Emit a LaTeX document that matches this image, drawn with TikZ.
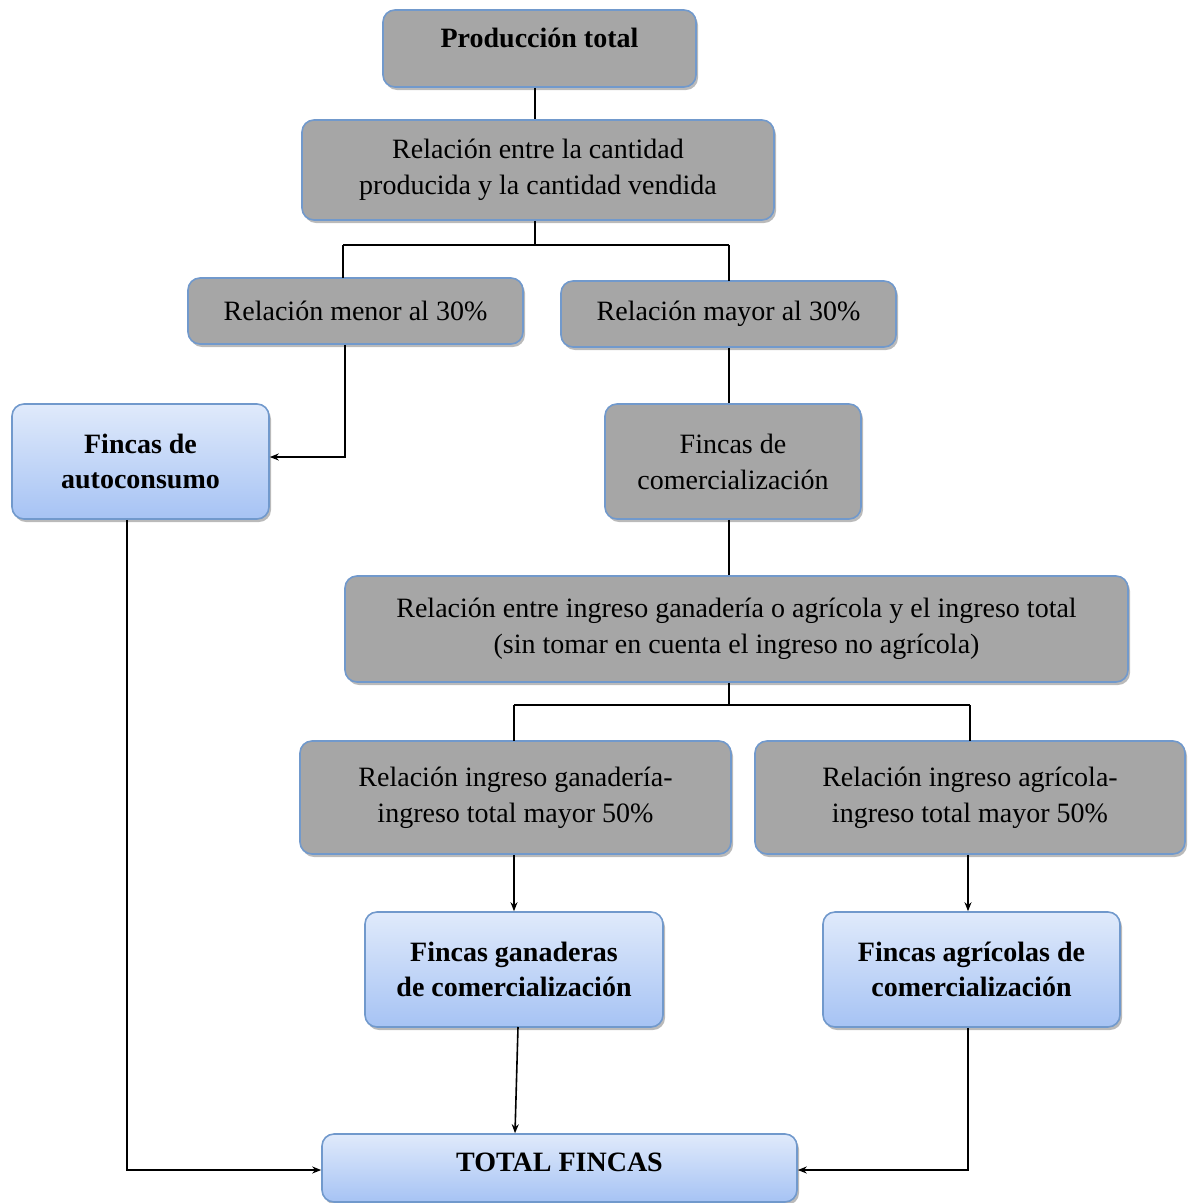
\documentclass[tikz,border=0pt]{standalone}
\usepackage{fontspec}
\setmainfont{Liberation Serif}
\usetikzlibrary{shadows,arrows.meta}
\definecolor{boxgray}{HTML}{A6A6A6}
\definecolor{boxedge}{HTML}{7199CC}
\definecolor{bluetop}{HTML}{E0EAFB}
\definecolor{bluebot}{HTML}{A6C3F4}
\tikzset{
  base/.style={rectangle, rounded corners=12pt, draw=boxedge, line width=1.6pt,
    align=center, font=\fontsize{28}{36}\selectfont, inner sep=0pt,
    drop shadow={shadow xshift=2pt, shadow yshift=-3pt, opacity=0.45, fill=black!60}},
  graybox/.style={base, fill=boxgray},
  bluebox/.style={base, top color=bluetop, bottom color=bluebot, font=\fontsize{28}{35}\selectfont\bfseries},
  conn/.style={line width=1.6pt, black},
  arr/.style={conn, -{Stealth[length=9pt,width=7pt]}}
}
\begin{document}
\begin{tikzpicture}[x=1pt,y=-1pt]
\useasboundingbox (0,0) rectangle (1189,1203);
\node[graybox, minimum width=313pt, minimum height=77pt, font=\fontsize{28}{35}\selectfont\bfseries] (prod) at (539.5,48.5) {\raisebox{1pt}[0pt][0pt]{Producción total}};
\node[graybox, minimum width=472pt, minimum height=100pt] (rel) at (538,170) {Relación entre la cantidad\\producida y la cantidad vendida};
\node[graybox, minimum width=335pt, minimum height=66pt] (men) at (355.5,311) {Relación menor al 30\%};
\node[graybox, minimum width=335pt, minimum height=66pt] (may) at (728.5,314) {Relación mayor al 30\%};
\node[bluebox, minimum width=257pt, minimum height=115pt] (auto) at (140.5,461.5) {Fincas de\\autoconsumo};
\node[graybox, minimum width=256pt, minimum height=115pt] (com) at (733,461.5) {Fincas de\\comercialización};
\node[graybox, minimum width=783pt, minimum height=106pt] (ing) at (736.5,629) {Relación entre ingreso ganadería o agrícola y el ingreso total\\(sin tomar en cuenta el ingreso no agrícola)};
\node[graybox, minimum width=431pt, minimum height=113pt] (gan) at (515.5,797.5) {Relación ingreso ganadería-\\ingreso total mayor 50\%};
\node[graybox, minimum width=430pt, minimum height=113pt] (agr) at (970,797.5) {Relación ingreso agrícola-\\ingreso total mayor 50\%};
\node[bluebox, minimum width=298pt, minimum height=115pt] (fg) at (514,969.5) {Fincas ganaderas\\de comercialización};
\node[bluebox, minimum width=297pt, minimum height=115pt] (fa) at (971.5,969.5) {Fincas agrícolas de\\comercialización};
\node[bluebox, minimum width=475pt, minimum height=68pt] (tot) at (559.5,1168) {\raisebox{-3pt}[0pt][0pt]{TOTAL FINCAS}};
% connectors
\draw[conn] (prod.south -| 535,0) -- (rel.north -| 535,0);
\coordinate (j1) at (535,245);
\draw[conn] (rel.south -| 535,0) -- (j1);
\draw[conn] (343,245) -- (j1) -- (729,245);
\draw[conn] (343,245) -- (343,278);
\draw[conn] (729,245) -- (729,281);
\draw[arr] (men.south -| 345,0) -- (345,457) -- (auto.east |- 0,457);
\draw[conn] (may.south -| 729,0) -- (com.north -| 729,0);
\draw[conn] (com.south -| 729,0) -- (ing.north -| 729,0);
\coordinate (j2) at (729,705);
\draw[conn] (ing.south -| 729,0) -- (j2);
\draw[conn] (514,705) -- (970,705);
\draw[conn] (514,705) -- (514,741);
\draw[conn] (970,705) -- (970,741);
\draw[arr] (gan.south -| 514,0) -- (fg.north -| 514,0);
\draw[arr] (agr.south -| 968,0) -- (fa.north -| 968,0);
\draw[arr] (518,1027) -- (tot.north -| 515,0);
\draw[arr] (auto.south -| 127,0) -- (127,1170) -- (tot.west |- 0,1170);
\draw[arr] (fa.south -| 968,0) -- (968,1170) -- (tot.east |- 0,1170);
\end{tikzpicture}
\end{document}
